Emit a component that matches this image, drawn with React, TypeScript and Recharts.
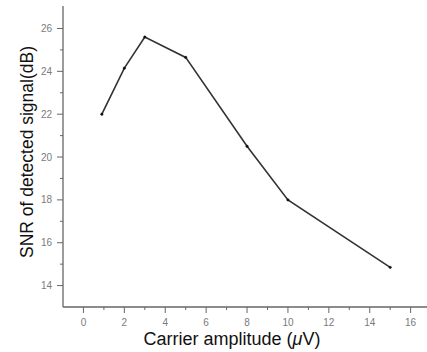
import React from "react";
import { LineChart, Line, XAxis, YAxis } from "recharts";

const amplitude = [0.9, 2, 3, 5, 8, 10, 15];
const snr = [22.0, 24.15, 25.6, 24.65, 20.5, 18.0, 14.85];
const xTicks = [0, 1, 2, 3, 4, 5, 6, 7, 8, 9, 10, 11, 12, 13, 14, 15, 16];
const yTicks = [14, 15, 16, 17, 18, 19, 20, 21, 22, 23, 24, 25, 26];

const data = amplitude.map((a, i) => ({ a, snr: snr[i] }));

const AXIS = "#666";
const LABEL = "#7a7a7a";
const FONT = "Liberation Sans, Arial, sans-serif";

// tickSize/tickMargin are 0, so x/y arrive on the axis line itself
function YTick({ x, y, payload }: any) {
  const major = payload.value % 2 === 0;
  return (
    <g>
      <line x1={x - (major ? 6 : 3)} x2={x} y1={y} y2={y} stroke={AXIS} strokeWidth={1} />
      {major && (
        <text x={x - 11} y={y} textAnchor="end" dominantBaseline="central" fontFamily={FONT} fontSize={10} fill={LABEL}>
          {payload.value}
        </text>
      )}
    </g>
  );
}

function XTick({ x, y, payload }: any) {
  const major = payload.value % 2 === 0;
  return (
    <g>
      <line x1={x} x2={x} y1={y} y2={y + (major ? 6 : 3)} stroke={AXIS} strokeWidth={1} />
      {major && (
        <text x={x} y={y + 15} textAnchor="middle" dominantBaseline="central" fontFamily={FONT} fontSize={10} fill={LABEL}>
          {payload.value}
        </text>
      )}
    </g>
  );
}

export default function App() {
  return (
    <div style={{ position: "absolute", left: 0, top: 0, width: 427, height: 352, background: "#fff" }}>
      <LineChart width={427} height={352} data={data} margin={{ top: 6, right: 0, left: 0, bottom: 0 }}>
        <XAxis
          type="number"
          dataKey="a"
          domain={[-1, 16.8]}
          ticks={xTicks}
          interval={0}
          height={45}
          tickSize={0}
          tickMargin={0}
          tick={<XTick />}
          tickLine={false}
          stroke={AXIS}
          strokeWidth={1.3}
          allowDataOverflow
        />
        <YAxis
          type="number"
          domain={[13, 27.05]}
          ticks={yTicks}
          interval={0}
          width={63}
          tickSize={0}
          tickMargin={0}
          tick={<YTick />}
          tickLine={false}
          stroke={AXIS}
          strokeWidth={1.3}
          allowDataOverflow
        />
        <Line
          type="linear"
          dataKey="snr"
          stroke="#333"
          strokeWidth={1.6}
          dot={{ r: 1.2, fill: "#111", stroke: "#111", strokeWidth: 0.5 }}
          isAnimationActive={false}
        />
      </LineChart>
      <svg width={427} height={352} style={{ position: "absolute", left: 0, top: 0, pointerEvents: "none" }}>
        <text
          x={232}
          y={339}
          textAnchor="middle"
          dominantBaseline="central"
          fontFamily={FONT}
          fontSize={18}
          fill="#111"
        >
          Carrier amplitude (<tspan fontStyle="italic">μ</tspan>V)
        </text>
        <text
          x={27}
          y={152}
          transform="rotate(-90 27 152)"
          textAnchor="middle"
          dominantBaseline="central"
          fontFamily={FONT}
          fontSize={17.5}
          fill="#111"
        >
          SNR of detected signal(dB)
        </text>
      </svg>
    </div>
  );
}
